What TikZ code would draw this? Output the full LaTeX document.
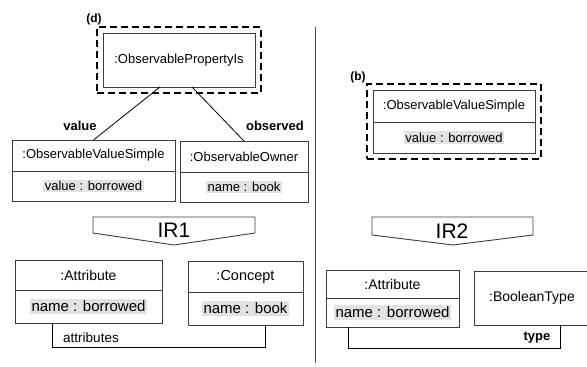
\documentclass[tikz,border=0pt]{standalone}
\usepackage{fontspec}
\setmainfont{Liberation Sans}
\usetikzlibrary{positioning,fit}
\definecolor{boxc}{HTML}{3C3C3C}
\definecolor{hilite}{HTML}{E2E2E2}
\newcommand{\hl}[1]{{\setlength{\fboxsep}{1.5pt}\colorbox{hilite}{#1}}}
\begin{document}
\begin{tikzpicture}[x=1pt,y=-1pt,inner sep=0pt,outer sep=0pt,
  obj/.style={draw=boxc,line width=0.9pt,font=\fontsize{13}{15}\selectfont},
  bigobj/.style={obj,font=\fontsize{15}{17}\selectfont},
  selframe/.style={draw=black,line width=2.4pt,dash pattern=on 7pt off 4pt,inner sep=6pt},
  tag/.style={font=\bfseries\fontsize{13}{15}\selectfont},
  irbox/.style={draw=boxc,line width=0.9pt},
  link/.style={draw=black,line width=0.8pt}]
\clip (0,0) rectangle (587,367);
% left half
\node[obj,minimum width=152pt,minimum height=54pt] (propIs) at (179,60) {:ObservablePropertyIs};
\node[selframe,fit=(propIs)] (frameD) {};
\node[tag,font=\bfseries\fontsize{12}{14}\selectfont] (labD) at (94,19) {(d)};
\node[obj,minimum width=163pt,minimum height=31pt] (ovsL) at (93.5,155.5) {:ObservableValueSimple};
\node[obj,minimum width=163pt,minimum height=30pt,below=0pt of ovsL] (ovsLval) {\hl{value : borrowed}};
\node[obj,minimum width=128pt,minimum height=31pt] (owner) at (244,156.5) {:ObservableOwner};
\node[obj,minimum width=128pt,minimum height=30pt,below=0pt of owner] (ownerVal) {\hl{name : book}};
\draw[link] ([xshift=-19pt]propIs.south) -- (ovsL.north);
\draw[link] ([xshift=13pt]propIs.south) -- (owner.north);
\node[tag] (valueLbl) at (80,126) {value};
\node[tag] (obsLbl) at (275,126) {observed};
\draw[irbox] (93,217) -- (255,217) -- (255,233) -- (174,245) -- (93,233) -- cycle;
\node[font=\fontsize{21}{23}\selectfont] (ir1) at (174,230) {IR1};
\node[obj,font=\fontsize{14}{16}\selectfont,minimum width=147pt,minimum height=30pt] (attrL) at (88.5,275) {:Attribute};
\node[bigobj,minimum width=147pt,minimum height=33pt,below=0pt of attrL] (attrLval) {\hl{name : borrowed}};
\node[obj,font=\fontsize{14.5}{16}\selectfont,minimum width=115pt,minimum height=31pt] (conc) at (245.5,276.5) {:Concept};
\node[bigobj,minimum width=115pt,minimum height=33pt,below=0pt of conc] (concVal) {\hl{name : book}};
\draw[link] ([xshift=-36.5pt]attrLval.south) -- ++(0,24) -| ([xshift=19.5pt]concVal.south);
\node[font=\fontsize{13.5}{15}\selectfont] (attrsLbl) at (91,338) {attributes};
\draw[gray!60!black,line width=1pt] (315,27) -- (315,363);
% right half
\node[obj,minimum width=162pt,minimum height=32pt] (ovsR) at (454,106) {:ObservableValueSimple};
\node[obj,minimum width=162pt,minimum height=31pt,below=0pt of ovsR] (ovsRval) {\hl{value : borrowed}};
\node[selframe,fit=(ovsR) (ovsRval)] (frameB) {};
\node[tag,font=\bfseries\fontsize{12}{14}\selectfont] (labB) at (358,77) {(b)};
\draw[irbox] (372,217) -- (533,217) -- (533,235) -- (453,245) -- (372,235) -- cycle;
\node[font=\fontsize{21}{23}\selectfont] (ir2) at (452,231) {IR2};
\node[obj,font=\fontsize{14}{16}\selectfont,minimum width=133pt,minimum height=28pt] (attrR) at (392.5,284) {:Attribute};
\node[bigobj,minimum width=133pt,minimum height=29pt,below=0pt of attrR] (attrRval) {\hl{name : borrowed}};
\node[obj,font=\fontsize{14}{16}\selectfont,minimum width=116pt,minimum height=54pt] (bool) at (532,298) {:BooleanType};
\draw[link] ([xshift=-44.5pt]attrRval.south) -- ++(0,21) -| ([xshift=28pt]bool.south);
\node[tag] (typeLbl) at (537,338) {type};
\end{tikzpicture}
\end{document}
